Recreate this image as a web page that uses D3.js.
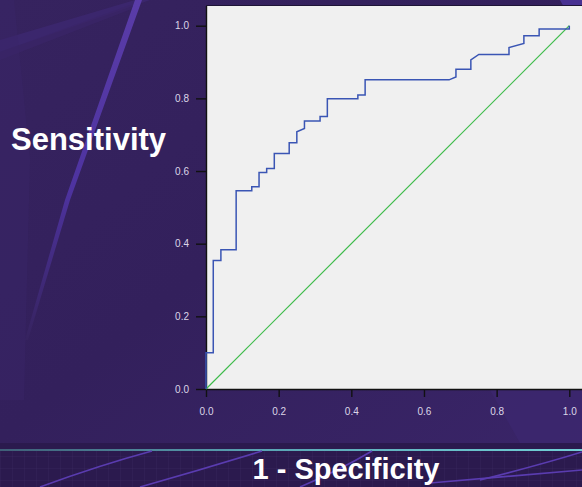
<!DOCTYPE html>
<html>
<head>
<meta charset="utf-8">
<script src="https://cdn.jsdelivr.net/npm/d3@7"></script>
<style>
  html, body { margin: 0; padding: 0; background: #35215e; }
  svg { display: block; }
</style>
</head>
<body>
<div id="viz"></div>
<script>
const width = 582;
const height = 487;

// ROC curve points (1 - specificity, sensitivity)
const fpr = [0, 0, 0.02, 0.02, 0.041, 0.041, 0.083, 0.083, 0.126, 0.126, 0.146, 0.146,
  0.167, 0.167, 0.188, 0.188, 0.229, 0.229, 0.25, 0.25, 0.271, 0.271, 0.314, 0.314,
  0.334, 0.334, 0.418, 0.418, 0.438, 0.438, 0.669, 0.688, 0.688, 0.729, 0.729, 0.751,
  0.834, 0.834, 0.875, 0.875, 0.917, 0.917, 1, 1];
const tpr = [0, 0.1, 0.1, 0.354, 0.354, 0.383, 0.383, 0.546, 0.546, 0.557, 0.557, 0.596,
  0.596, 0.607, 0.607, 0.648, 0.648, 0.678, 0.678, 0.708, 0.717, 0.738, 0.738, 0.75,
  0.75, 0.799, 0.799, 0.809, 0.809, 0.851, 0.851, 0.859, 0.88, 0.88, 0.906, 0.921,
  0.921, 0.94, 0.951, 0.972, 0.972, 0.991, 0.991, 1];
const refX = [0, 1];
const refY = [0, 1];
const tickValues = [0, 0.2, 0.4, 0.6, 0.8, 1.0];

const xLabel = '1 - Specificity';
const yLabel = 'Sensitivity';

const plotLeft = 206;
const plotRight = 569.3;
const plotTop = 25.7;
const plotBottom = 389;

const svg = d3.select('#viz')
  .append('svg')
  .attr('width', width)
  .attr('height', height);

const defs = svg.append('defs');

const bgGrad = defs.append('linearGradient')
  .attr('id', 'bg')
  .attr('x1', 0).attr('y1', 0).attr('x2', 1).attr('y2', 1);
bgGrad.append('stop').attr('offset', '0%').attr('stop-color', '#36235f');
bgGrad.append('stop').attr('offset', '45%').attr('stop-color', '#33205c');
bgGrad.append('stop').attr('offset', '100%').attr('stop-color', '#3a2569');

const tealGrad = defs.append('linearGradient')
  .attr('id', 'teal')
  .attr('x1', 0).attr('y1', 0).attr('x2', 1).attr('y2', 0);
tealGrad.append('stop').attr('offset', '0%').attr('stop-color', '#3f5f78');
tealGrad.append('stop').attr('offset', '45%').attr('stop-color', '#5aa4b4');
tealGrad.append('stop').attr('offset', '100%').attr('stop-color', '#72d0d6');

const streakGrad = defs.append('linearGradient')
  .attr('id', 'streak')
  .attr('x1', 0).attr('y1', 0).attr('x2', 0).attr('y2', 1);
streakGrad.append('stop').attr('offset', '0%').attr('stop-color', '#5a3ca8');
streakGrad.append('stop').attr('offset', '55%').attr('stop-color', '#4e33a0');
streakGrad.append('stop').attr('offset', '100%').attr('stop-color', '#36235f');

const grid = defs.append('pattern')
  .attr('id', 'grid')
  .attr('width', 12).attr('height', 12)
  .attr('patternUnits', 'userSpaceOnUse');
grid.append('path')
  .attr('d', 'M12 0 L0 0 0 12')
  .attr('fill', 'none')
  .attr('stroke', '#3a2a60')
  .attr('stroke-width', 0.6);

// background
svg.append('rect')
  .attr('width', width).attr('height', height)
  .attr('fill', 'url(#bg)');

// faint background streaks
const deco = svg.append('g');
deco.append('path')
  .attr('d', 'M0 40 L135 0 L150 0 L0 52 Z')
  .attr('fill', '#3d2870').attr('opacity', 0.8);
deco.append('path')
  .attr('d', 'M0 52 L130 5 L134 8 L0 60 Z')
  .attr('fill', '#3a2568').attr('opacity', 0.7);
deco.append('path')
  .attr('d', 'M135 0 L142 0 L70 200 L28 340 L25 340 L65 200 Z')
  .attr('fill', 'url(#streak)');
deco.append('path')
  .attr('d', 'M0 0 L14 0 L30 160 L24 400 L0 400 Z')
  .attr('fill', '#3a2568').attr('opacity', 0.45);
deco.append('path')
  .attr('d', 'M520 0 L560 0 L582 40 L582 0 Z')
  .attr('fill', '#4e36a0').attr('opacity', 0.8);
deco.append('path')
  .attr('d', 'M490 390 L582 390 L582 443 L520 443 Z')
  .attr('fill', '#3d2872').attr('opacity', 0.6);

// bottom band
svg.append('rect')
  .attr('x', 0).attr('y', 443).attr('width', width).attr('height', 44)
  .attr('fill', '#2b1a4e');
svg.append('rect')
  .attr('x', 0).attr('y', 451).attr('width', width).attr('height', 36)
  .attr('fill', 'url(#grid)');
svg.append('rect')
  .attr('x', 0).attr('y', 449).attr('width', width).attr('height', 2)
  .attr('fill', 'url(#teal)');
const band = svg.append('g')
  .attr('fill', 'none')
  .attr('stroke', '#5a3cb0')
  .attr('stroke-width', 1.6);
band.append('path').attr('d', 'M40 487 Q100 465 152 451');
band.append('path').attr('d', 'M140 487 Q200 470 262 451');
band.append('path').attr('d', 'M300 487 Q340 470 372 451');
band.append('path').attr('d', 'M480 480 Q540 465 582 452');
band.append('path').attr('d', 'M430 483 Q520 475 582 470');

// scales
const xScale = d3.scaleLinear().domain([0, 1]).range([plotLeft, plotRight]);
const yScale = d3.scaleLinear().domain([0, 1]).range([plotBottom, plotTop]);

// plot panel
svg.append('rect')
  .attr('x', plotLeft)
  .attr('y', 6)
  .attr('width', width - plotLeft)
  .attr('height', plotBottom - 6)
  .attr('fill', '#f0f0f0');
svg.append('line')
  .attr('x1', plotLeft).attr('x2', width)
  .attr('y1', 5.5).attr('y2', 5.5)
  .attr('stroke', '#1e1436').attr('stroke-width', 1);

// axes
const yAxis = d3.axisLeft(yScale)
  .tickValues(tickValues)
  .tickFormat(d3.format('.1f'))
  .tickSize(10)
  .tickPadding(7);
const xAxis = d3.axisBottom(xScale)
  .tickValues(tickValues)
  .tickFormat(d3.format('.1f'))
  .tickSize(8)
  .tickPadding(11);

const gy = svg.append('g')
  .attr('transform', `translate(${plotLeft},0)`)
  .call(yAxis);
const gx = svg.append('g')
  .attr('transform', `translate(0,${plotBottom})`)
  .call(xAxis);

gy.select('.domain').attr('d', `M0.5,6V${plotBottom}`);
gx.select('.domain').attr('d', `M${plotLeft},0.5H${width}`);

[gx, gy].forEach((g) => {
  g.selectAll('.domain').attr('stroke', '#111').attr('stroke-width', 1.4);
  g.selectAll('.tick line').attr('stroke', '#111').attr('stroke-width', 1.4);
  g.selectAll('.tick text')
    .attr('fill', '#dcd6e8')
    .style('font-family', 'Arial, "Liberation Sans", sans-serif')
    .style('font-size', '10px');
});

// reference diagonal
const line = d3.line()
  .x((d) => xScale(d[0]))
  .y((d) => yScale(d[1]));

svg.append('path')
  .datum(refX.map((v, i) => [v, refY[i]]))
  .attr('d', line)
  .attr('fill', 'none')
  .attr('stroke', '#3dbb4a')
  .attr('stroke-width', 1.2);

// ROC curve
svg.append('path')
  .datum(fpr.map((v, i) => [v, tpr[i]]))
  .attr('d', line)
  .attr('fill', 'none')
  .attr('stroke', '#3a55b4')
  .attr('stroke-width', 1.5);

// axis titles
svg.append('text')
  .attr('x', 11)
  .attr('y', 150)
  .attr('fill', '#ffffff')
  .style('font-family', 'Arial, "Liberation Sans", sans-serif')
  .style('font-weight', 'bold')
  .style('font-size', '31px')
  .text(yLabel);

svg.append('text')
  .attr('x', 346)
  .attr('y', 479)
  .attr('text-anchor', 'middle')
  .attr('fill', '#ffffff')
  .style('font-family', 'Arial, "Liberation Sans", sans-serif')
  .style('font-weight', 'bold')
  .style('font-size', '29px')
  .text(xLabel);
</script>
</body>
</html>
